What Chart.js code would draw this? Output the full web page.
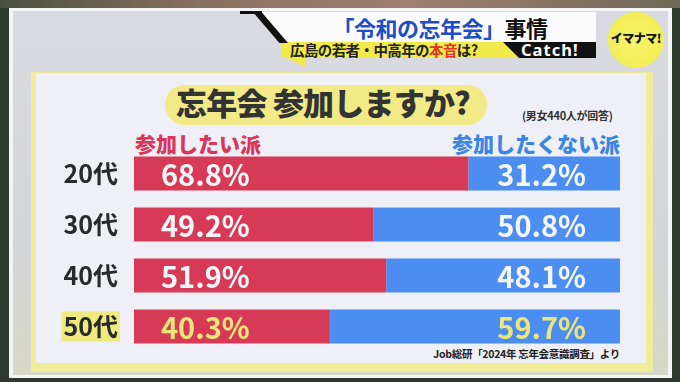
<!DOCTYPE html>
<html lang="ja">
<head>
<meta charset="utf-8">
<script src="https://cdn.jsdelivr.net/npm/chart.js@4"></script>
<style>
  html, body { margin: 0; padding: 0; }
  body { width: 680px; height: 382px; overflow: hidden; position: relative; background: #2e3a30; font-family: "Noto Sans CJK JP", "Noto Sans", sans-serif; }
  .abs { position: absolute; }
  #topstrip { left: 0; top: 0; width: 680px; height: 8px; background: linear-gradient(90deg, #4a5040, #8a7060 30%, #a08070 60%, #706858); }
  #frame { left: 9px; top: 8px; width: 663px; height: 370px; background: #f4f5f7; }
  #stage { left: 13px; top: 11px; width: 655px; height: 364px; background: linear-gradient(180deg, #d9dbe0 0%, #d3d6db 60%, #d8d8c8 100%); }
  #panelY { left: 31px; top: 72px; width: 622px; height: 300px; background: #efec9a; }
  #panel { left: 36px; top: 73px; width: 610px; height: 290px; background: #eef0f6; }
  #blackline { left: 240px; top: 11px; width: 22px; height: 3px; background: #111; }
  #banner { left: 258px; top: 12px; width: 338px; height: 30px; background: #fcfcfd; clip-path: polygon(0 0, 100% 0, 100% 100%, 28px 100%); }
  #diag { left: 252px; top: 11px; width: 36px; height: 32px; background: #111; clip-path: polygon(0 0, 24% 0, 100% 100%, 76% 100%); }
  #title { left: 300px; top: 13px; width: 280px; text-align: center; font-size: 22px; font-weight: 700; color: #111; line-height: 28px; letter-spacing: -0.5px; }
  #title .b { color: #1c4fc4; }
  #sub { left: 282px; top: 42px; width: 314px; height: 16px; background: #f0ea4a; }
  #tail { left: 283px; top: 56px; width: 24px; height: 11px; background: #f0ea4a; clip-path: polygon(0 0, 100% 0, 90% 100%); }
  #subtxt { left: 290px; top: 40px; font-size: 14.5px; font-weight: 700; color: #222; line-height: 19px; letter-spacing: -0.6px; }
  #subtxt .r { color: #e2332a; }
  #catch { left: 503px; top: 42px; width: 93px; height: 16px; background: #111; clip-path: polygon(0 0, 100% 0, 100% 100%, 16px 100%); }
  #catchtxt { left: 521px; top: 40px; font-size: 16.5px; font-weight: 700; color: #fff; line-height: 20px; font-family: "Noto Sans", sans-serif; letter-spacing: 1px; }
  #logo { left: 608px; top: 12px; width: 56px; height: 56px; border-radius: 50%; background: radial-gradient(circle, #f7f36a 0%, #f3ee55 70%, #fbfbd8 78%, #f4ef60 100%); }
  #logotxt { left: 608px; top: 30px; width: 56px; text-align: center; font-size: 12px; font-weight: 900; color: #111; line-height: 16px; letter-spacing: -0.5px; }
  #pill { left: 165px; top: 85px; width: 322px; height: 40px; border-radius: 20px; background: #f1ea86; }
  #q { left: 176px; top: 80px; font-size: 31px; font-weight: 900; color: #333; line-height: 44px; letter-spacing: -0.8px; }
  #note { left: 522px; top: 108px; font-size: 11px; font-weight: 700; color: #333; line-height: 14px; letter-spacing: -0.3px; }
  #legL { left: 135px; top: 130px; font-size: 21px; font-weight: 900; color: #d9365a; line-height: 26px; }
  #legR { left: 420px; top: 130px; width: 200px; text-align: right; font-size: 21px; font-weight: 900; color: #3a86e2; line-height: 26px; }
  #src { left: 400px; top: 347px; width: 220px; text-align: right; font-size: 10.5px; font-weight: 700; color: #222; line-height: 14px; letter-spacing: -0.3px; }
  #c { position: absolute; left: 0; top: 0; }
</style>
</head>
<body>
<div class="abs" id="topstrip"></div>
<div class="abs" id="frame"></div>
<div class="abs" id="stage"></div>
<div class="abs" id="panelY"></div>
<div class="abs" id="panel"></div>
<div class="abs" id="sub"></div>
<div class="abs" id="tail"></div>
<div class="abs" id="banner"></div>
<div class="abs" id="diag"></div>
<div class="abs" id="blackline"></div>
<div class="abs" id="title"><span class="b">「令和の忘年会」</span>事情</div>
<div class="abs" id="subtxt">広島の若者・中高年の<span class="r">本音</span>は?</div>
<div class="abs" id="catch"></div>
<div class="abs" id="catchtxt">Catch!</div>
<div class="abs" id="logo"></div>
<div class="abs" id="logotxt">イマナマ!</div>
<div class="abs" id="pill"></div>
<div class="abs" id="q">忘年会 参加しますか?</div>
<div class="abs" id="note">(男女440人が回答)</div>
<div class="abs" id="legL">参加したい派</div>
<div class="abs" id="legR">参加したくない派</div>
<div class="abs" id="src">Job総研「2024年 忘年会意識調査」より</div>
<canvas id="c" width="680" height="382"></canvas>
<script>
const categories = ["20代", "30代", "40代", "50代"];
const wantToJoin = [68.8, 49.2, 51.9, 40.3];
const notWantToJoin = [31.2, 50.8, 48.1, 59.7];
const seriesNames = ["参加したい派", "参加したくない派"];
const highlightIndex = 3;

const RED = "#d73a56";
const BLUE = "#4b8df0";
const WHITE = "#f6f6f8";
const YELLOW = "#ebe57a";

const valueLabels = {
  id: "valueLabels",
  afterDatasetsDraw(chart) {
    const ctx = chart.ctx;
    ctx.save();
    ctx.font = '700 29px "Noto Sans CJK JP", "Noto Sans", sans-serif';
    ctx.textBaseline = "middle";
    chart.data.datasets.forEach((ds, di) => {
      const meta = chart.getDatasetMeta(di);
      meta.data.forEach((bar, i) => {
        const txt = ds.data[i].toFixed(1) + "%";
        ctx.fillStyle = i === highlightIndex ? YELLOW : WHITE;
        const left = Math.min(bar.x, bar.base);
        const right = Math.max(bar.x, bar.base);
        if (di === 0) {
          ctx.textAlign = "left";
          ctx.fillText(txt, left + 27, bar.y + 1);
        } else {
          ctx.textAlign = "right";
          ctx.fillText(txt, right - 34, bar.y + 1);
        }
      });
    });
    ctx.restore();
  }
};

new Chart(document.getElementById("c"), {
  type: "bar",
  data: {
    labels: categories,
    datasets: [
      { label: seriesNames[0], data: wantToJoin, backgroundColor: RED, borderWidth: 0 },
      { label: seriesNames[1], data: notWantToJoin, backgroundColor: BLUE, borderWidth: 0 }
    ]
  },
  options: {
    indexAxis: "y",
    responsive: false,
    animation: false,
    layout: { padding: { left: 40, right: 60, top: 148, bottom: 30 } },
    plugins: { legend: { display: false }, tooltip: { enabled: false } },
    datasets: { bar: { categoryPercentage: 0.667, barPercentage: 1.0 } },
    scales: {
      x: { stacked: true, min: 0, max: 100, display: false },
      y: {
        stacked: true,
        grid: { display: false },
        border: { display: false },
        afterFit(scale) { scale.width = 94; },
        ticks: {
          color: "#2a2a2a",
          padding: 8,
          font: { family: '"Noto Sans CJK JP", sans-serif', size: 25, weight: "700" },
          showLabelBackdrop: true,
          backdropColor: (c) => c.index === highlightIndex ? "#eeea80" : "rgba(0,0,0,0)",
          backdropPadding: { top: 0, bottom: 0, left: 2, right: 2 }
        }
      }
    }
  },
  plugins: [valueLabels]
});
</script>
</body>
</html>
